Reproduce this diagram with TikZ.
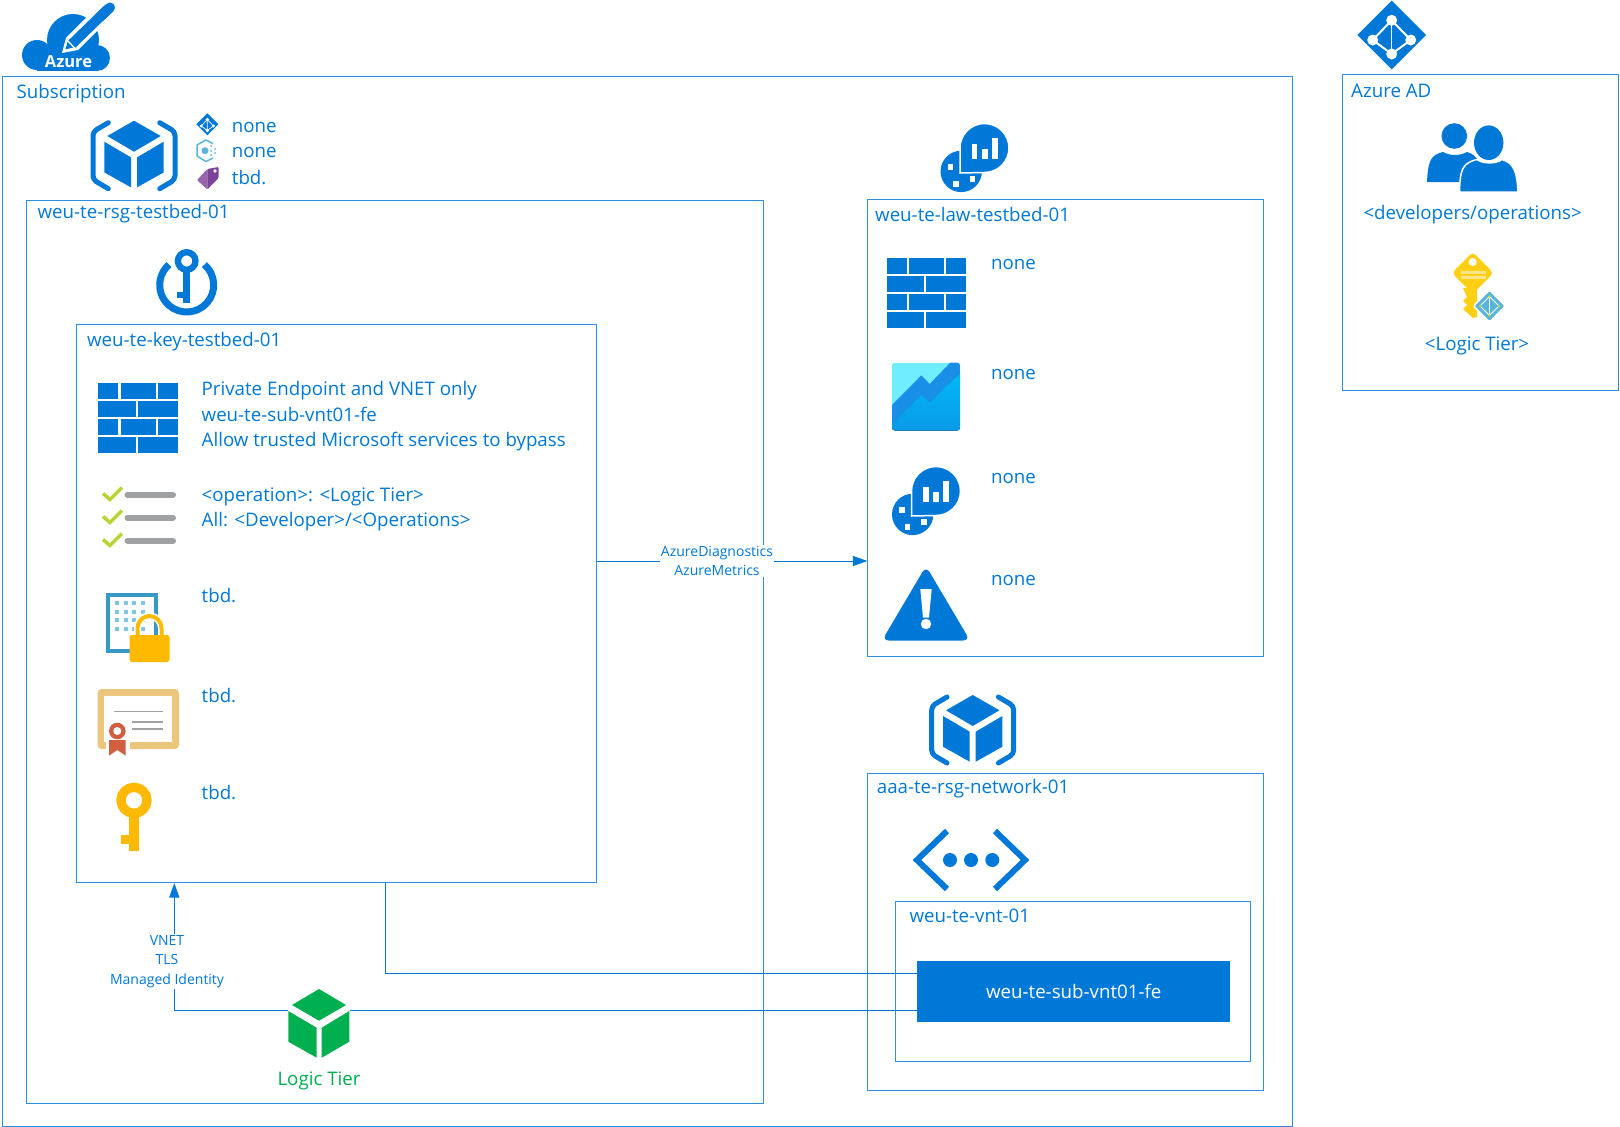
\documentclass[tikz,border=0pt]{standalone}
\usepackage{fontspec}
\setmainfont{Open Sans}
\usetikzlibrary{arrows.meta,calc}

\definecolor{azblue}{HTML}{0078D7}
\definecolor{boxblue}{HTML}{2E8FE0}
\definecolor{logicgreen}{HTML}{00B050}
\definecolor{keyyellow}{HTML}{FFB900}
\definecolor{adyellow}{HTML}{FFCF14}
\definecolor{adpale}{HTML}{FFE58A}
\definecolor{skyblue}{HTML}{59B4D9}
\definecolor{paleblue}{HTML}{7FC8E5}
\definecolor{frameblue}{HTML}{3999C6}
\definecolor{checkgreen}{HTML}{B8D432}
\definecolor{bargray}{HTML}{A0A1A2}
\definecolor{certtan}{HTML}{ECC67C}
\definecolor{certred}{HTML}{D15E3F}
\definecolor{tagpurple}{HTML}{9A63AE}
\definecolor{tagdark}{HTML}{7A4399}
\definecolor{chartpale}{HTML}{70EDFF}
\definecolor{charttop}{HTML}{00B8F5}
\definecolor{chartlow}{HTML}{0A9AE8}
\definecolor{chartband}{HTML}{1A8FE8}

\tikzstyle{box} = [rectangle, draw=boxblue, line width=1pt, inner sep=0pt]
\tikzstyle{boxtext} = [anchor=west, yshift=-1.5pt, inner sep=0pt, text=azblue, font=\fontsize{18.7}{20}\selectfont]
\tikzstyle{linktext} = [fill=white, yshift=-1pt, inner sep=1pt, text=azblue, align=center, font=\fontsize{14}{19.5}\selectfont]
\tikzstyle{line} = [draw=azblue, line width=1pt]
\tikzstyle{arrow} = [draw=azblue, line width=1pt, -{Triangle[length=14.5pt,width=10pt]}]

\tikzset{
  rsgicon/.pic={
    \fill[azblue] (0,-35) -- (26.7,-19.7) -- (0,-4) -- (-26.7,-19.7) -- cycle;
    \fill[azblue] (-29.7,-14) -- (-3,1.7) -- (-3,31.7) -- (-29.7,16.7) -- cycle;
    \fill[azblue] (29.7,-14) -- (3,1.7) -- (3,31.7) -- (29.7,16.7) -- cycle;
    \draw[azblue, line width=5pt, line cap=round, rounded corners=4pt] (-25.7,-33) -- (-41,-24) -- (-41,24) -- (-25.7,33);
    \draw[azblue, line width=5pt, line cap=round, rounded corners=4pt] (25.7,-33) -- (41,-24) -- (41,24) -- (25.7,33);
  },
  wallicon/.pic={
    \foreach \y in {0,36} {
      \fill[azblue] (0,\y) rectangle (20,\y+16);
      \fill[azblue] (22.3,\y) rectangle (57.3,\y+16);
      \fill[azblue] (59.3,\y) rectangle (79.4,\y+16);
      \fill[azblue] (0,\y+18) rectangle (37.7,\y+34);
      \fill[azblue] (39.7,\y+18) rectangle (79.4,\y+34);
    }
  },
  lawicon/.pic={
    \fill[azblue] (20.7,47.4) circle (20.7);
    \filldraw[azblue, draw=white, line width=1.5pt] (19.5,49) -- (19.5,24) arc (180:450:24.5) -- cycle;
    \fill[white] (31,20) rectangle (36.5,35);
    \fill[white] (41,25) rectangle (47,35);
    \fill[white] (51,14) rectangle (57,35);
    \fill[white] (7,40) rectangle (12.5,46);
    \fill[white] (12.5,57) rectangle (18,63);
    \fill[white] (29,52) rectangle (34.5,58);
  }
}

\begin{document}
\begin{tikzpicture}[x=1pt, y=-1pt]
    \useasboundingbox (0,0) rectangle (1620,1127);

    % boxes
    \node (subscription) [box, minimum width=1290pt, minimum height=1050pt] at (647,601) {};
    \node (rsg) [box, minimum width=736.5pt, minimum height=903pt] at (395.2,651.5) {};
    \node (keyvault) [box, minimum width=520.5pt, minimum height=558pt] at (336.7,603.5) {};
    \node (law) [box, minimum width=395.5pt, minimum height=456.5pt] at (1065.7,428) {};
    \node (network) [box, minimum width=395.5pt, minimum height=317pt] at (1065.7,931.5) {};
    \node (vnet) [box, minimum width=355pt, minimum height=160pt] at (1072.5,981) {};
    \node (subnet) [rectangle, fill=azblue, minimum width=312.7pt, minimum height=61pt, text=white, font=\fontsize{18.7}{20}\selectfont] at (1073.7,991.8) {weu-te-sub-vnt01-fe};
    \node (aad) [box, minimum width=275.3pt, minimum height=316.7pt] at (1480.4,232.4) {};
    \node (logic) [minimum width=61pt, minimum height=74pt, inner sep=0pt] at (319,1023) {};

    % box titles
    \node (subtitle) [boxtext] at (16.5,91.7) {Subscription};
    \node (rsgtitle) [boxtext] at (37.5,211.7) {weu-te-rsg-testbed-01};
    \node (keytitle) [boxtext] at (87,340) {weu-te-key-testbed-01};
    \node (lawtitle) [boxtext] at (875,212.5) {weu-te-law-testbed-01};
    \node (nettitle) [boxtext] at (876.7,786.7) {aaa-te-rsg-network-01};
    \node (vnttitle) [boxtext] at (909.3,914) {weu-te-vnt-01};
    \node (aadtitle) [boxtext] at (1351,89.7) {Azure AD};

    % subscription settings
    \node (rsgrole) [boxtext] at (231.7,126) {none};
    \node (rsgpolicy) [boxtext] at (231.7,151) {none};
    \node (rsgtag) [boxtext] at (231.7,176) {tbd.};

    % key vault settings
    \node (keynet) [boxtext, align=left, font=\fontsize{18.7}{25.2}\selectfont] at (201.5,414.7) {Private Endpoint and VNET only\\weu-te-sub-vnt01-fe\\Allow trusted Microsoft services to bypass};
    \node (keyaccess) [boxtext, align=left, font=\fontsize{18.7}{25.2}\selectfont] at (201.5,508) {<operation>: <Logic Tier>\\All: <Developer>/<Operations>};
    \node (keyiam) [boxtext] at (201.5,594) {tbd.};
    \node (keycert) [boxtext] at (201.5,694) {tbd.};
    \node (keykey) [boxtext] at (201.5,791.5) {tbd.};

    % log analytics settings
    \node (lawnet) [boxtext] at (991,263) {none};
    \node (lawchart) [boxtext] at (991,373) {none};
    \node (lawwork) [boxtext] at (991,477) {none};
    \node (lawalert) [boxtext] at (991,579) {none};

    % azure ad
    \node (adusers) [boxtext, anchor=center] at (1472.6,213) {<developers/operations>};
    \node (adtier) [boxtext, anchor=center] at (1477,344) {<Logic Tier>};
    \node (logictext) [boxtext, anchor=center, text=logicgreen] at (319,1079) {Logic Tier};

    % connectors
    \coordinate (diagin) at (keyvault.east |- 0,561);
    \coordinate (subin) at (subnet.west |- 0,973.3);
    \coordinate (tierin) at (subnet.west |- 0,1010.7);
    \coordinate (tierup) at (logic.west |- 0,1010.7);
    \coordinate (tierright) at (logic.east |- 0,1010.7);
    \draw[arrow] (diagin) -- (law.west |- diagin);
    \draw[line] (keyvault.south -| 385.7,0) |- (subin);
    \draw[arrow] (tierup) -| (keyvault.south -| 174.3,0);
    \draw[line] (tierright) -- (tierin);
    \node (diagtext) [linktext] at (717,560) {AzureDiagnostics\\AzureMetrics};
    \node (tiertext) [linktext] at (167,960.5) {VNET\\TLS\\Managed Identity};

    % azure logo
    \fill[azblue] (37,55) circle (15);
    \fill[azblue] (73,40) circle (26);
    \fill[azblue] (97,58) circle (13);
    \fill[azblue] (37,54) rectangle (98,70.5);
    \draw[white, line width=17pt] (72,44) -- (104,12);
    \fill[white] (62,53) -- (66,38) -- (78,50) -- cycle;
    \draw[azblue, line width=10pt] (72,44) -- (108,9);
    \draw[azblue, line width=10pt, line cap=round] (100,17) -- (110,7.5);
    \fill[azblue] (65.5,49.5) -- (67.5,42) -- (73,47.5) -- cycle;
    \node (azureword) [text=white, inner sep=0pt, font=\bfseries\fontsize{16.5}{16.5}\selectfont] at (68.5,61.5) {Azure};

    % top icons
    \pic at (134,155.7) {rsgicon};
    \pic at (972.7,730) {rsgicon};
    \pic at (940.5,124) {lawicon};
    \pic at (892,467) {lawicon};
    \pic at (98.3,383.3) {wallicon};
    \pic at (886.5,257.5) {wallicon};

    % azure ad icon
    \fill[azblue] (1357.4,35) -- (1391.7,0.7) -- (1426,35) -- (1391.7,69.3) -- cycle;
    \draw[white, line width=2pt] (1391.7,20.3) -- (1372.7,40) -- (1391.7,54) -- (1410.7,40) -- cycle;
    \draw[white, line width=1.5pt] (1391.7,20.3) -- (1391.7,54);
    \foreach \a/\b in {1391.7/20.3,1372.7/40,1410.7/40,1391.7/54} \fill[white] (\a,\b) circle (5.5);

    % small azure ad icon
    \fill[azblue] (196.3,124.3) -- (207.3,113.3) -- (218.3,124.3) -- (207.3,135.3) -- cycle;
    \draw[white, line width=0.7pt] (207.3,119.5) -- (201.2,126) -- (207.3,130.5) -- (213.4,126) -- cycle (207.3,119.5) -- (207.3,130.5);
    \foreach \a/\b in {207.3/119.5,201.2/126,213.4/126,207.3/130.5} \fill[white] (\a,\b) circle (1.7);

    % small policy icon
    \draw[skyblue, line width=1.5pt, line join=round] (213,143.5) -- (206,140) -- (197,145) -- (197,156) -- (206,161.5) -- (213,158);
    \fill[skyblue] (205,150.7) circle (3.5);
    \foreach \a/\b in {211/146,215/149,211/151,215/153,211/155} \fill[skyblue] (\a,\b) circle (1);

    % small tag icon
    \fill[tagpurple, rounded corners=1pt] (197,180) -- (207.3,169) -- (207.3,189.5) -- cycle;
    \fill[tagdark, rounded corners=1pt] (207.3,169) -- (218.5,167) -- (218.5,178) -- (207.3,189.5) -- cycle;
    \fill[white] (215,171) circle (1.8);

    % key vault icon
    \draw[azblue, line width=7pt] (186.7,285) ++(-49:27) arc (-49:229:27);
    \draw[azblue, line width=6.3pt] (186.7,261) circle (8.8);
    \fill[azblue] (183,270) rectangle (190.3,302.7);
    \fill[azblue] (176.7,291.7) rectangle (183,298.3);

    % access list icon
    \foreach \y in {0,23,46} {
      \draw[checkgreen, line width=3.5pt] (103,\y+493.5) -- (110,\y+499.5) -- (122,\y+487.5);
      \draw[bargray, line width=6pt, line cap=round] (127.5,\y+494.7) -- (173,\y+494.7);
    }

    % building and lock icon
    \draw[frameblue, line width=4pt] (108,595) rectangle (155.5,651);
    \foreach \a in {117,125.5,134,142.5} \foreach \b in {603,611.5,620,629} \fill[paleblue] (\a-2,\b-2) rectangle (\a+2,\b+2);
    \draw[white, line width=7pt] (137.5,640) -- (137.5,628) arc (180:360:12) -- (161.5,640);
    \draw[keyyellow, line width=4pt] (137.5,640) -- (137.5,628) arc (180:360:12) -- (161.5,640);
    \fill[keyyellow, rounded corners=2.5pt] (129.5,635) rectangle (169.5,662);

    % certificate icon
    \fill[certtan, rounded corners=4pt] (97.5,689) rectangle (179,749);
    \fill[white] (104.3,695.7) rectangle (172.3,742.3);
    \draw[bargray, line width=1.3pt] (113.7,711.7) -- (162.7,711.7);
    \draw[bargray, line width=1.3pt] (132.3,722) -- (162.7,722);
    \draw[bargray, line width=1.3pt] (132.3,729) -- (162.7,729);
    \fill[white] (106,725) rectangle (130,758);
    \fill[certred] (109,740) -- (125.7,740) -- (125.7,755.7) -- (117.3,750) -- (109,755.7) -- cycle;
    \fill[certred] (117.3,731) circle (8.3);
    \fill[white] (117.3,731) circle (4);

    % yellow key icon
    \draw[keyyellow, line width=9.3pt] (134,800.3) circle (13);
    \fill[keyyellow] (129.3,815) rectangle (139,850.7);
    \fill[keyyellow] (121,835) rectangle (129.3,844);

    % chart icon
    \begin{scope}
      \clip[rounded corners=3pt] (892,362.6) rectangle (960,430.6);
      \fill[chartpale] (892,362.6) rectangle (960,430.6);
      \fill[top color=charttop, bottom color=chartlow] (892,423.6) -- (921.3,394.3) -- (929.7,402.2) -- (960,372.9) -- (960,430.6) -- (892,430.6) -- cycle;
      \fill[chartband] (892,405) -- (921.3,375.4) -- (929.7,384) -- (950.3,362.6) -- (960,362.6) -- (960,372.9) -- (929.7,402.2) -- (921.3,394.3) -- (892,423.6) -- cycle;
    \end{scope}

    % warning icon
    \fill[azblue, rounded corners=7pt] (926,566) -- (970,640.5) -- (882,640.5) -- cycle;
    \fill[white] (920.3,589) -- (931.7,589) -- (929,617.5) -- (923,617.5) -- cycle;
    \fill[white] (926,624) circle (5.2);

    % vnet icon
    \draw[azblue, line width=6pt] (947,831) -- (917,860) -- (947,889);
    \draw[azblue, line width=6pt] (995,831) -- (1025,860) -- (995,889);
    \foreach \a in {950,971,992.3} \fill[azblue] (\a,860) circle (7);

    % logic tier cube
    \fill[logicgreen] (319,989) -- (346,1005) -- (319,1020.7) -- (292,1005) -- cycle;
    \fill[logicgreen] (288.3,1011) -- (316.7,1027.7) -- (316.7,1057.7) -- (288.3,1041.7) -- cycle;
    \fill[logicgreen] (349.3,1011) -- (321.7,1027.7) -- (321.7,1057.7) -- (349.3,1041.7) -- cycle;

    % users icon
    \fill[azblue] (1454.3,136) circle (12.8);
    \fill[azblue] (1427,182) .. controls (1428,162) and (1430,155) .. (1443,152) .. controls (1450,156) and (1460,156) .. (1467,152) .. controls (1478,155) and (1482,165) .. (1482,182) -- cycle;
    \filldraw[azblue, draw=white, line width=1.5pt] (1459.5,192) .. controls (1460,170) and (1462,163) .. (1477,159.5) .. controls (1483,164) and (1496,164) .. (1502,159.5) .. controls (1514,163) and (1517,172) .. (1518,192) -- cycle;
    \fill[white] (1488.7,142.7) ellipse (15.7 and 18.3);
    \fill[azblue] (1488.7,142.7) ellipse (14.7 and 17.3);

    % app key icon
    \fill[adyellow, rounded corners=4pt] (1472.7,252) -- (1493.5,273) -- (1472.7,294) -- (1452,273) -- cycle;
    \fill[adyellow] (1463,288) -- (1477,288) -- (1477,317) -- (1473,318) -- (1463,309) -- (1467,305) -- (1463,301) -- (1467,297) -- cycle;
    \fill[white] (1472.7,262) circle (4);
    \fill[adpale] (1460.7,270.7) rectangle (1485.7,274);
    \fill[adpale] (1460.7,276) rectangle (1485.7,279.3);
    \filldraw[skyblue, draw=white, line width=1.5pt, rounded corners=1.5pt] (1489.5,290) -- (1505.5,306) -- (1489.5,322) -- (1473.5,306) -- cycle;
    \draw[white, line width=0.8pt] (1489.5,296.5) -- (1480,306) -- (1489.5,315.5) -- (1499,306) -- cycle (1489.5,296.5) -- (1489.5,315.5);
    \foreach \a/\b in {1489.5/296.5,1480/306,1489.5/315.5,1499/306} \fill[checkgreen] (\a,\b) circle (1.3);
\end{tikzpicture}
\end{document}
